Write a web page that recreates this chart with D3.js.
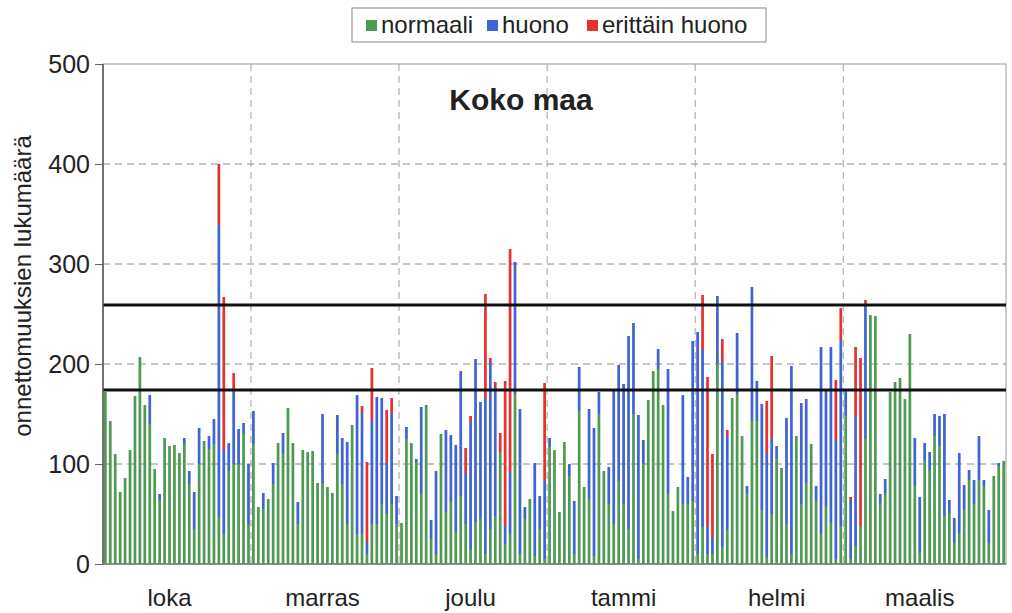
<!DOCTYPE html>
<html><head><meta charset="utf-8">
<script src="https://cdn.jsdelivr.net/npm/d3@7"></script>
<style>
body{margin:0;background:#fff;}
svg{display:block;font-family:"Liberation Sans",Arial,sans-serif;}
</style></head>
<body><svg id="c" width="1012" height="613"></svg>
<script>
// Data: daily accident counts Oct–Mar by road condition
const normaali = [172,143,110,72,86,114,168,207,159,140,95,64,126,118,119,111,120,80,35,100,123,115,120,47,30,93,100,100,130,39,
120,57,55,65,80,121,110,156,121,40,114,112,113,81,80,77,71,110,80,40,139,30,30,10,40,40,60,50,60,40,
41,125,121,102,70,159,25,10,130,52,62,32,68,40,15,42,45,10,35,48,112,20,30,170,10,45,65,8,35,5,
117,114,52,122,88,10,153,77,65,8,150,93,60,40,83,60,35,150,5,100,164,193,195,159,70,53,77,60,60,63,
10,37,10,10,200,17,34,166,170,128,70,143,143,54,7,50,106,96,40,10,128,60,81,120,63,30,58,41,5,38,
148,5,18,38,125,249,248,61,71,172,182,186,165,230,78,11,104,94,128,118,48,51,21,31,54,84,60,84,78,21,
88,98,103];
const huono = [0,0,0,0,0,0,0,0,0,29,0,6,0,0,0,0,6,13,37,36,0,13,25,292,84,28,74,35,11,61,
33,0,16,0,21,0,21,0,0,22,0,0,0,0,70,0,0,39,46,82,0,139,121,12,104,127,106,51,91,28,
0,12,0,3,87,0,19,83,0,82,67,87,125,51,127,163,117,155,167,129,0,18,62,132,145,12,0,93,33,78,
9,0,0,0,12,53,44,0,90,128,22,0,37,133,116,120,193,91,144,24,0,0,20,0,125,0,0,109,27,160,
222,177,27,17,68,185,93,0,61,0,8,134,40,106,104,76,12,0,106,188,0,101,84,0,15,187,116,176,119,186,
26,58,130,0,135,0,0,9,14,0,0,0,0,0,48,56,17,18,22,30,102,13,25,80,25,10,24,44,6,33,
0,3,0];
const erittainHuono = [0,0,0,0,0,0,0,0,0,0,0,0,0,0,0,0,0,0,0,0,0,0,0,61,153,0,17,0,0,0,
0,0,0,0,0,0,0,0,0,0,0,0,0,0,0,0,0,0,0,0,0,0,7,80,52,0,0,53,15,0,
0,0,0,0,0,0,0,0,0,0,0,0,0,25,6,0,0,105,4,5,19,145,223,0,0,0,0,0,0,98,
0,0,0,0,0,0,0,0,0,0,0,0,0,0,0,0,0,0,0,0,0,0,0,0,0,0,0,0,0,0,
0,55,150,83,0,23,7,0,0,0,0,0,0,0,52,82,0,0,0,0,0,0,0,0,0,0,0,0,60,32,
0,4,69,168,4,0,0,0,0,0,0,0,0,0,0,0,0,0,0,0,0,0,0,0,0,0,0,0,0,0,
0,0,0];
const months = ["loka","marras","joulu","tammi","helmi","maalis"];
const daysInMonth = [31,30,31,31,29,31];
const yTicks = [0,100,200,300,400,500];
const referenceLevels = [259,174];
const seriesNames = ["normaali","huono","erittäin huono"];
const seriesColors = ["#4f9a52","#3f64d4","#e8312f"];

(function(){
const svg = d3.select("#c");
const n = normaali.length;
const days = d3.range(n);
const table = days.map(i => ({day:i, normaali:normaali[i], huono:huono[i], "erittäin huono":erittainHuono[i]}));

const pL = 103, pR = 1006, pT = 64, pB = 564;
const x = d3.scaleBand().domain(days).range([pL, pR]).paddingInner(0.45).paddingOuter(0.2);
const y = d3.scaleLinear().domain([0,500]).range([pB, pT]);

// plot frame
svg.append("rect").attr("x",pL).attr("y",pT).attr("width",pR-pL).attr("height",pB-pT)
  .attr("fill","#fff").attr("stroke","#9a9a9a").attr("stroke-width",1);

// horizontal gridlines
svg.append("g").selectAll("line").data(yTicks.filter(t=>t>0 && t<500)).join("line")
  .attr("x1",pL).attr("x2",pR).attr("y1",d=>y(d)).attr("y2",d=>y(d))
  .attr("stroke","#8a8a8a").attr("stroke-width",1).attr("stroke-dasharray","7,5");

// vertical gridlines every 30 categories
const vTicks = [30,60,90,120,150];
svg.append("g").selectAll("line").data(vTicks).join("line")
  .attr("x1",d=>x(d)-x.step()*x.paddingInner()/2).attr("x2",d=>x(d)-x.step()*x.paddingInner()/2)
  .attr("y1",pT).attr("y2",pB)
  .attr("stroke","#a0a0a0").attr("stroke-width",1).attr("stroke-dasharray","7,5");

// stacked bars
const stack = d3.stack().keys(seriesNames)(table);
svg.append("g").selectAll("g").data(stack).join("g")
  .attr("fill",(d,i)=>seriesColors[i])
  .selectAll("rect").data(d=>d).join("rect")
  .attr("x",d=>x(d.data.day)).attr("width",x.bandwidth())
  .attr("y",d=>y(d[1])).attr("height",d=>Math.max(0,y(d[0])-y(d[1])));

// reference lines
svg.append("g").selectAll("line").data(referenceLevels).join("line")
  .attr("x1",pL).attr("x2",pR).attr("y1",d=>y(d)).attr("y2",d=>y(d))
  .attr("stroke","#111").attr("stroke-width",3);

// axes lines
svg.append("line").attr("x1",pL).attr("x2",pL).attr("y1",pT).attr("y2",pB).attr("stroke","#555").attr("stroke-width",1.5);
svg.append("line").attr("x1",pL).attr("x2",pR).attr("y1",pB).attr("y2",pB).attr("stroke","#777").attr("stroke-width",1.5);

// y axis
const yAxis = svg.append("g").attr("transform",`translate(${pL},0)`)
  .call(d3.axisLeft(y).tickValues(yTicks).tickSize(8).tickPadding(5));
yAxis.select(".domain").remove();
yAxis.selectAll(".tick line").attr("stroke","#666");
yAxis.selectAll("text").attr("font-size",25).attr("fill","#222").attr("font-family","Liberation Sans, Arial, sans-serif");

// month labels
let start = 0;
const monthPos = daysInMonth.map(dm => { const s = start; start += dm; return s + 13; });
svg.append("g").selectAll("text").data(months).join("text")
  .attr("x",(d,i)=>x(monthPos[i]) + x.bandwidth()/2).attr("y",606)
  .attr("text-anchor","middle").attr("font-size",24).attr("fill","#222").text(d=>d);

// y title
svg.append("text").attr("transform","translate(31,286) rotate(-90)")
  .attr("text-anchor","middle").attr("font-size",24).attr("fill","#222")
  .text("onnettomuuksien lukumäärä");

// chart title
svg.append("text").attr("x",521).attr("y",110).attr("text-anchor","middle")
  .attr("font-size",30).attr("font-weight","bold").attr("fill","#222").text("Koko maa");

// legend
const lg = svg.append("g");
lg.append("rect").attr("x",352).attr("y",8).attr("width",414).attr("height",34)
  .attr("fill","#fff").attr("stroke","#888").attr("stroke-width",1);
const legendX = [366,487,587];
seriesNames.forEach((s,i)=>{
  lg.append("rect").attr("x",legendX[i]).attr("y",20).attr("width",11).attr("height",11).attr("fill",seriesColors[i]);
  lg.append("text").attr("x",legendX[i]+15).attr("y",33).attr("font-size",24).attr("fill","#222").text(s);
});
})();
</script></body></html>
